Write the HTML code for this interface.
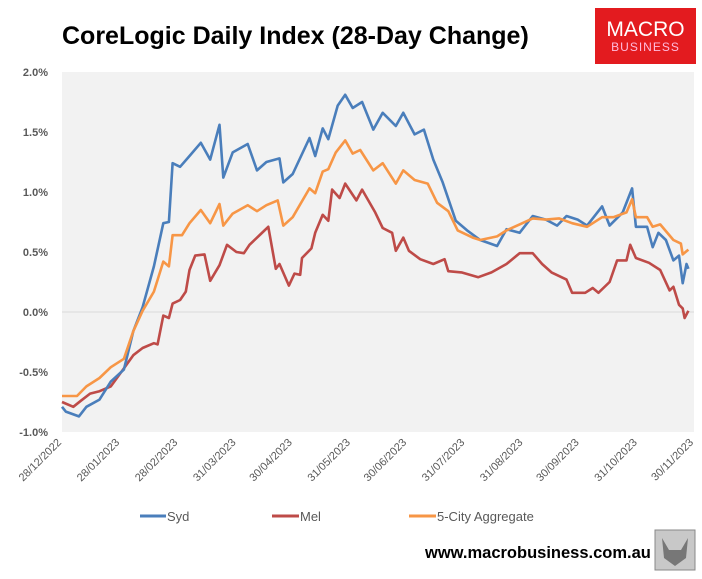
<!DOCTYPE html>
<html><head><meta charset="utf-8">
<style>
body{margin:0;background:#fff;width:702px;height:574px;overflow:hidden;font-family:"Liberation Sans",sans-serif;}
svg text{font-family:"Liberation Sans",sans-serif;}
</style></head>
<body>
<svg id="chart" width="702" height="574" xmlns="http://www.w3.org/2000/svg">
  <text x="62" y="44" font-size="25" font-weight="bold" fill="#000">CoreLogic Daily Index (28-Day Change)</text>
  <g>
    <rect x="595" y="8" width="101" height="56" fill="#e31b1f"/>
    <text x="645.5" y="36" font-size="21" fill="#fff" text-anchor="middle">MACRO</text>
    <text x="645.5" y="51" font-size="12" fill="#fbd" text-anchor="middle" letter-spacing="1">BUSINESS</text>
  </g>
  <rect x="62" y="72" width="632" height="360" fill="#f2f2f2"/>
  <g id="yaxis"></g>
  <g id="xaxis"></g>
  <g id="series"></g>
  <g font-size="13" fill="#595959">
    <g><line x1="140" y1="516" x2="166" y2="516" stroke="#4a7ebb" stroke-width="3"/><text x="167" y="521" fill="#595959">Syd</text></g>
    <g><line x1="272" y1="516" x2="299" y2="516" stroke="#be4b48" stroke-width="3"/><text x="300" y="521" fill="#595959">Mel</text></g>
    <g><line x1="409" y1="516" x2="436" y2="516" stroke="#f79646" stroke-width="3"/><text x="437" y="521" fill="#595959">5-City Aggregate</text></g>
  </g>
  <text x="425" y="558" font-size="16.5" font-weight="bold" fill="#000">www.macrobusiness.com.au</text>
  <g>
    <rect x="655" y="530" width="40" height="40" fill="#c8c8c8" stroke="#888" stroke-width="1"/>
    <path d="M662 538 L669 550 L681 550 L688 538 L686 558 L675 566 L664 558 Z" fill="#777"/>
  </g>
</svg>
<script>
const ticks = [-1.0,-0.5,0.0,0.5,1.0,1.5,2.0];
const dateLabels = ["28/12/2022","28/01/2023","28/02/2023","31/03/2023","30/04/2023","31/05/2023","30/06/2023","31/07/2023","31/08/2023","30/09/2023","31/10/2023","30/11/2023"];
const dateDays = [0,31,62,93,123,154,184,215,246,276,307,337];
const sydDays = [0,2,9,13,20,26,33,38,43,49,54,57,59,63,68,74,79,84,86,91,99,104,109,116,118,123,132,135,139,142,147,151,155,160,166,171,178,182,188,193,198,203,210,216,223,232,237,244,251,258,264,269,275,280,288,292,299,304,306,312,315,318,322,326,329,331,333,334];
const sydVals = [-0.79,-0.83,-0.87,-0.79,-0.73,-0.58,-0.48,-0.16,0.04,0.38,0.74,0.75,1.24,1.21,1.30,1.41,1.27,1.56,1.12,1.33,1.40,1.18,1.25,1.28,1.08,1.15,1.45,1.30,1.53,1.44,1.72,1.81,1.70,1.75,1.52,1.66,1.55,1.66,1.48,1.52,1.27,1.08,0.76,0.68,0.60,0.55,0.69,0.66,0.80,0.77,0.72,0.80,0.77,0.72,0.88,0.72,0.83,1.03,0.71,0.71,0.54,0.66,0.60,0.43,0.47,0.24,0.40,0.36];
const cityDays = [0,8,13,20,26,33,38,43,49,54,57,59,64,68,74,79,84,86,91,99,104,109,115,118,123,132,135,139,142,146,151,155,159,166,171,178,182,188,195,200,206,211,219,223,232,237,244,251,258,265,272,280,288,294,301,304,306,312,315,319,326,330,331,334];
const cityVals = [-0.70,-0.70,-0.62,-0.55,-0.46,-0.39,-0.16,0.01,0.17,0.42,0.38,0.64,0.64,0.74,0.85,0.74,0.90,0.72,0.82,0.89,0.84,0.89,0.93,0.72,0.79,1.03,0.99,1.17,1.19,1.33,1.43,1.32,1.35,1.18,1.24,1.07,1.18,1.10,1.07,0.91,0.84,0.68,0.62,0.60,0.63,0.68,0.73,0.78,0.77,0.78,0.74,0.71,0.79,0.79,0.83,0.94,0.79,0.79,0.71,0.73,0.60,0.57,0.48,0.52];
const melDays = [0,6,10,15,20,26,33,38,43,49,51,54,57,59,63,66,68,71,76,79,84,88,93,97,100,106,110,114,116,121,124,127,128,133,135,139,142,144,148,151,157,160,167,171,176,178,182,185,191,198,204,206,213,222,229,237,244,251,256,261,269,272,279,283,286,292,296,301,303,306,313,319,324,326,329,331,332,334];
const melVals = [-0.75,-0.79,-0.74,-0.68,-0.66,-0.62,-0.47,-0.36,-0.30,-0.26,-0.27,-0.03,-0.05,0.07,0.10,0.17,0.35,0.47,0.48,0.26,0.39,0.56,0.50,0.49,0.56,0.65,0.71,0.36,0.40,0.22,0.32,0.31,0.45,0.53,0.66,0.81,0.76,1.02,0.95,1.07,0.93,1.02,0.83,0.70,0.66,0.51,0.62,0.51,0.44,0.40,0.44,0.34,0.33,0.29,0.33,0.40,0.49,0.49,0.40,0.33,0.27,0.16,0.16,0.20,0.16,0.25,0.43,0.43,0.56,0.45,0.41,0.35,0.18,0.21,0.06,0.03,-0.05,0.01];

const NS="http://www.w3.org/2000/svg";
const X0=62,X1=694,Y0=432,Y1=72,VMIN=-1,VMAX=2,DMAX=337;
function xs(d){return X0+(X1-X0)*d/DMAX;}
function ys(v){return Y0-(Y0-Y1)*(v-VMIN)/(VMAX-VMIN);}
const yax=document.getElementById('yaxis');
ticks.forEach(t=>{
  const tx=document.createElementNS(NS,'text');
  
  
  tx.setAttribute('x',48);tx.setAttribute('y',ys(t)+4);
  tx.setAttribute('text-anchor','end');tx.setAttribute('font-size','11');
  tx.setAttribute('font-weight','bold');tx.setAttribute('fill','#595959');
  tx.textContent=t.toFixed(1)+'%';yax.appendChild(tx);
});
const zl=document.createElementNS(NS,'line');


zl.setAttribute('x1',X0);zl.setAttribute('x2',X1);zl.setAttribute('y1',ys(0));zl.setAttribute('y2',ys(0));
zl.setAttribute('stroke','#d9d9d9');zl.setAttribute('stroke-width','1');yax.appendChild(zl);
const xax=document.getElementById('xaxis');
dateLabels.forEach((l,i)=>{
  const x=xs(dateDays[i]);
  const tx=document.createElementNS(NS,'text');
  
  
  tx.setAttribute('x',x);tx.setAttribute('y',443);
  tx.setAttribute('text-anchor','end');tx.setAttribute('font-size','11');
  tx.setAttribute('fill','#595959');
  tx.setAttribute('transform','rotate(-45 '+x+' 443)');
  tx.textContent=l;xax.appendChild(tx);
});
const sg=document.getElementById('series');
function draw(days,vals,color,name){
  const p=document.createElementNS(NS,'path');
  
  
  p.setAttribute('d',days.map((d,i)=>(i?'L':'M')+xs(d).toFixed(1)+' '+ys(vals[i]).toFixed(1)).join(' '));
  p.setAttribute('fill','none');p.setAttribute('stroke',color);p.setAttribute('stroke-width','2.6');
  p.setAttribute('stroke-linejoin','round');
  sg.appendChild(p);
}
draw(melDays,melVals,'#be4b48','mel-line');
draw(sydDays,sydVals,'#4a7ebb','syd-line');
draw(cityDays,cityVals,'#f79646','five-city-line');
</script>
</body></html>
